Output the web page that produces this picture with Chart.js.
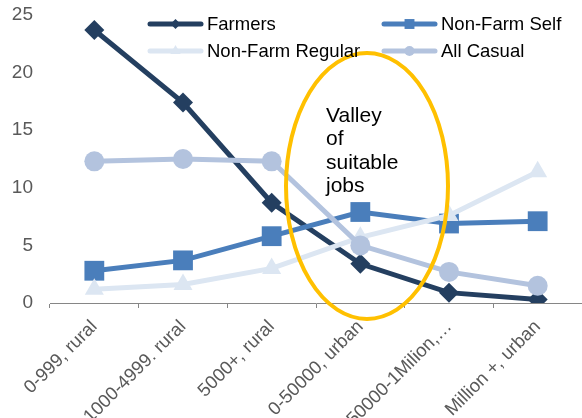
<!DOCTYPE html>
<html><head><meta charset="utf-8">
<script src="https://cdn.jsdelivr.net/npm/chart.js@4"></script>
<style>html,body{margin:0;padding:0;background:#fff}#wrap{width:582px;height:418px;position:relative}</style>
</head><body><div id="wrap"><canvas id="c" width="582" height="418"></canvas></div>
<script>
const categories = ['0-999, rural','1000-4999. rural','5000+, rural','0-50000, urban','50000-1Milion,…','Million +, urban'];
const seriesNames = ['Farmers','Non-Farm Self','Non-Farm Regular','All Casual'];
const farmers = [23.7,17.4,8.7,3.4,0.9,0.3];
const nonFarmSelf = [2.8,3.7,5.8,7.9,6.9,7.1];
const nonFarmRegular = [1.2,1.6,3.0,5.7,7.6,11.4];
const allCasual = [12.3,12.5,12.3,5.0,2.7,1.5];
const yTicks = [0,5,10,15,20,25];
const annotationLines = ['Valley','of','suitable','jobs'];

const FONT = "'Liberation Sans', Arial, sans-serif";
const colors = ['#243F60','#4A7EBB','#DCE6F2','#B3C3DE'];
const shapes = ['rectRot','rect','triangle','circle'];
const radii = [10,14,11,10];
const legendRadii = [5,7,6,5];
const values = [farmers, nonFarmSelf, nonFarmRegular, allCasual];

const datasets = seriesNames.map((n,i)=>({
  label:n, data:values[i], borderColor:colors[i], backgroundColor:colors[i],
  borderWidth:5, pointStyle:shapes[i], pointRadius:radii[i], pointHoverRadius:radii[i],
  pointBorderWidth:0, tension:0, order:4-i
}));

const legendPlugin = {
  id:'customLegend',
  afterDraw(chart){
    const ctx = chart.ctx;
    const pos = [[148,24],[382,24],[148,51],[382,51]];
    chart.data.datasets.forEach((ds,i)=>{
      const [x,y] = pos[i];
      ctx.save();
      ctx.strokeStyle = ds.borderColor; ctx.lineWidth = 5; ctx.lineCap='round';
      ctx.beginPath(); ctx.moveTo(x+2,y); ctx.lineTo(x+53,y); ctx.stroke();
      ctx.fillStyle = ds.backgroundColor;
      Chart.helpers.drawPoint(ctx,{pointStyle:ds.pointStyle, radius:legendRadii[i], borderWidth:0, rotation:0}, x+27.5, y);
      ctx.fillStyle='#000'; ctx.font = "18.5px "+FONT; ctx.textBaseline='middle'; ctx.textAlign='left';
      ctx.fillText(ds.label, x+59, y+1);
      ctx.restore();
    });
  }
};

const ellipsePlugin = {
  id:'valley',
  afterDatasetsDraw(chart){
    const ctx = chart.ctx;
    ctx.save();
    ctx.strokeStyle = '#FFC000'; ctx.lineWidth = 4;
    ctx.beginPath(); ctx.ellipse(367,186,81,133,0,0,Math.PI*2); ctx.stroke();
    ctx.fillStyle='#000'; ctx.font = "21px "+FONT; ctx.textBaseline='middle'; ctx.textAlign='left';
    annotationLines.forEach((t,i)=>ctx.fillText(t,326,116+i*23.5));
    ctx.restore();
  }
};

function zeroPad(s){ s.paddingLeft = 0; s.paddingRight = 0; s.paddingTop = 0; s.paddingBottom = 0; }

new Chart(document.getElementById('c'),{
  type:'line',
  data:{labels:categories, datasets},
  options:{
    responsive:false, animation:false, devicePixelRatio:1,
    layout:{autoPadding:false, padding:{top:15,right:0,left:0,bottom:0}},
    plugins:{legend:{display:false}, tooltip:{enabled:false}},
    scales:{
      x:{
        type:'category', position:'bottom', offset:true,
        grid:{display:true, drawOnChartArea:false, drawTicks:true, tickLength:5, color:'#868686', offset:true},
        border:{display:true, color:'#868686', width:1},
        ticks:{color:'#595959', font:{family:FONT, size:18.5}, minRotation:45, maxRotation:45, autoSkip:false, padding:8},
        afterFit(s){ s.height = 115; zeroPad(s); }
      },
      y:{
        min:yTicks[0], max:yTicks[yTicks.length-1],
        grid:{display:false, drawTicks:false}, border:{display:false},
        ticks:{stepSize:yTicks[1]-yTicks[0], color:'#595959', font:{family:FONT, size:19}, padding:17},
        afterFit(s){ s.width = 50; zeroPad(s); }
      }
    }
  },
  plugins:[legendPlugin, ellipsePlugin]
});
</script></body></html>
